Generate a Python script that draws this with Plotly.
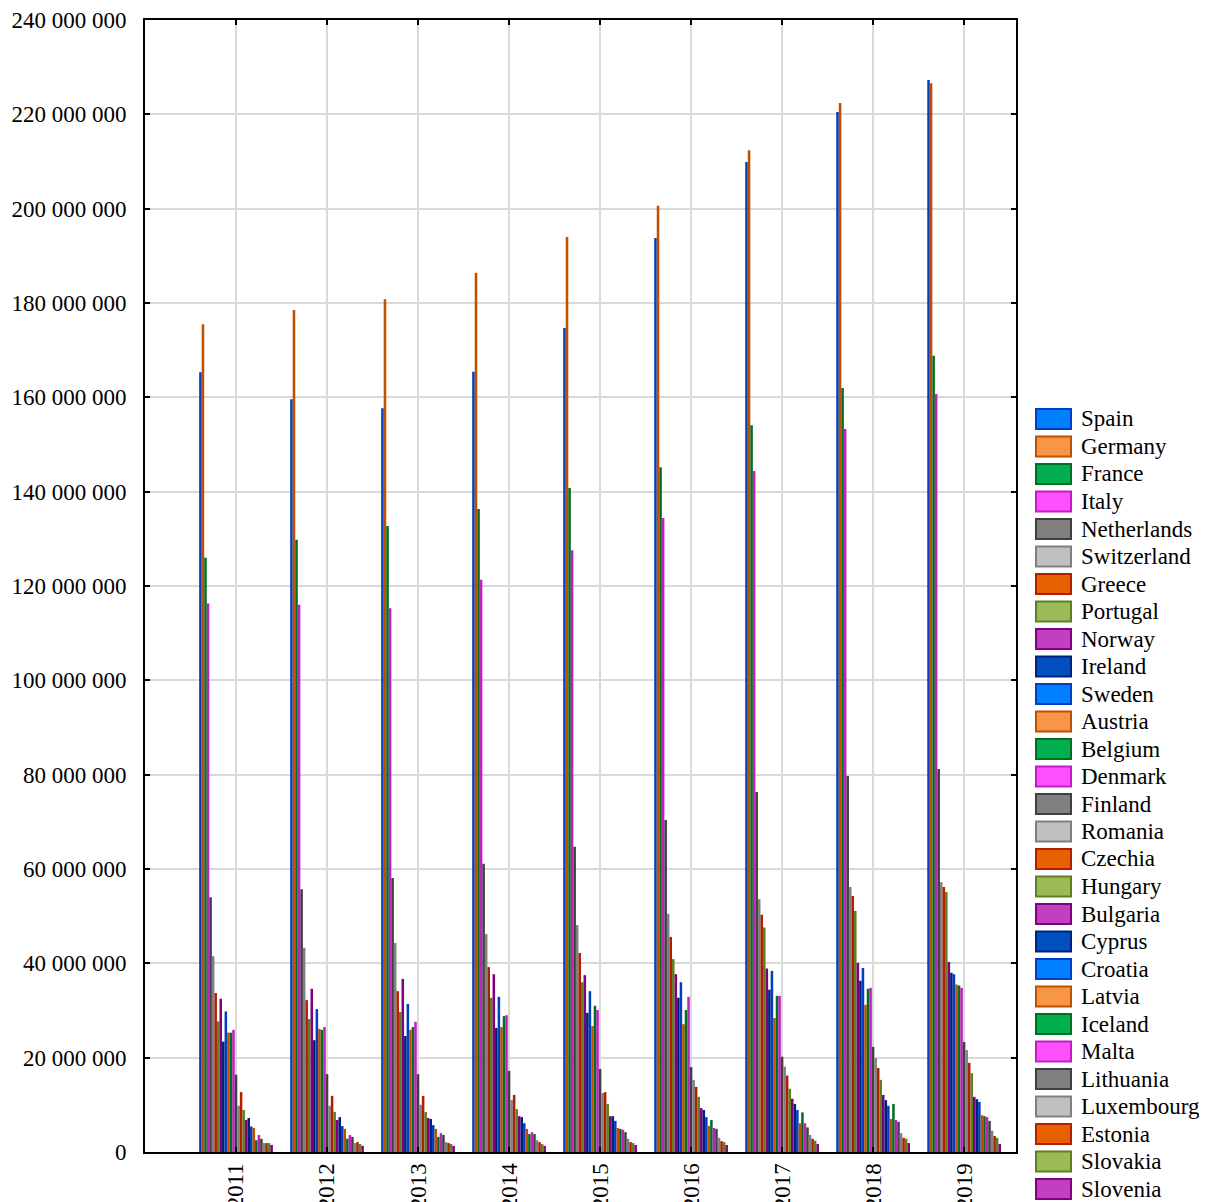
import plotly.graph_objects as go

years = [2011, 2012, 2013, 2014, 2015, 2016, 2017, 2018, 2019]

countries = ["Spain", "Germany", "France", "Italy", "Netherlands", "Switzerland", "Greece",
             "Portugal", "Norway", "Ireland", "Sweden", "Austria", "Belgium", "Denmark",
             "Finland", "Romania", "Czechia", "Hungary", "Bulgaria", "Cyprus", "Croatia",
             "Latvia", "Iceland", "Malta", "Lithuania", "Luxembourg", "Estonia", "Slovakia",
             "Slovenia"]

# values in millions
spain = [165.3, 159.6, 157.7, 165.4, 174.7, 193.8, 209.9, 220.5, 227.3]
germany = [175.5, 178.5, 180.8, 186.4, 194.0, 200.6, 212.4, 222.4, 226.6]
france = [126.0, 129.8, 132.7, 136.3, 140.8, 145.2, 154.1, 162.0, 168.8]
italy = [116.3, 116.0, 115.3, 121.3, 127.6, 134.4, 144.4, 153.3, 160.7]
netherlands = [54.0, 55.7, 58.1, 61.1, 64.7, 70.4, 76.3, 79.7, 81.2]
switzerland = [41.5, 43.3, 44.3, 46.2, 48.1, 50.5, 53.6, 56.2, 57.2]
greece = [33.7, 32.2, 34.1, 39.2, 42.2, 45.6, 50.3, 54.3, 56.2]
portugal = [27.7, 28.2, 29.7, 32.7, 36.0, 40.9, 47.6, 51.1, 55.1]
norway = [32.5, 34.6, 36.7, 37.7, 37.5, 37.7, 38.9, 40.1, 40.3]
ireland = [23.4, 23.7, 24.6, 26.3, 29.5, 32.7, 34.4, 36.3, 38.0]
sweden = [29.8, 30.3, 31.4, 32.9, 34.1, 36.0, 38.4, 39.0, 37.7]
austria = [25.3, 26.1, 25.9, 26.5, 26.7, 27.1, 28.4, 31.2, 35.5]
belgium = [25.3, 25.9, 26.5, 28.8, 31.0, 30.1, 33.1, 34.6, 35.3]
denmark = [25.9, 26.5, 27.6, 29.0, 30.1, 32.9, 33.1, 34.8, 34.8]
finland = [16.4, 16.5, 16.5, 17.2, 17.6, 18.0, 20.2, 22.3, 23.3]
romania = [9.8, 9.8, 10.0, 11.0, 12.5, 15.3, 18.1, 19.9, 21.6]
czechia = [12.7, 11.9, 11.9, 12.1, 12.7, 13.8, 16.2, 17.8, 18.9]
hungary = [8.9, 8.5, 8.5, 9.1, 10.2, 11.7, 13.4, 15.3, 16.7]
bulgaria = [6.8, 6.8, 7.2, 7.6, 7.6, 9.3, 11.3, 12.1, 11.7]
cyprus = [7.2, 7.4, 7.0, 7.4, 7.6, 8.9, 10.2, 11.0, 11.2]
croatia = [5.4, 5.5, 5.7, 6.1, 6.6, 7.4, 8.9, 9.8, 10.6]
latvia = [5.1, 4.9, 4.9, 4.9, 5.1, 5.5, 6.1, 7.0, 7.8]
iceland = [2.5, 2.8, 3.2, 3.8, 4.9, 6.8, 8.4, 10.2, 7.6]
malta = [3.6, 3.6, 4.0, 4.2, 4.7, 5.1, 6.1, 6.8, 7.4]
lithuania = [2.8, 3.2, 3.6, 3.8, 4.2, 4.9, 5.2, 6.4, 6.6]
luxembourg = [1.9, 1.9, 2.1, 2.5, 2.8, 3.0, 3.6, 4.0, 4.5]
estonia = [1.9, 2.1, 1.9, 2.1, 2.1, 2.3, 2.8, 3.0, 3.4]
slovakia = [1.9, 1.7, 1.7, 1.7, 1.9, 2.1, 2.4, 2.8, 3.0]
slovenia = [1.5, 1.3, 1.3, 1.3, 1.5, 1.5, 1.7, 1.9, 1.7]

series = [spain, germany, france, italy, netherlands, switzerland, greece, portugal, norway,
          ireland, sweden, austria, belgium, denmark, finland, romania, czechia, hungary,
          bulgaria, cyprus, croatia, latvia, iceland, malta, lithuania, luxembourg, estonia,
          slovakia, slovenia]

y_ticks = [0, 20e6, 40e6, 60e6, 80e6, 100e6, 120e6, 140e6, 160e6, 180e6, 200e6, 220e6, 240e6]

border_colors = ["#0040c0", "#c05000", "#007020", "#c020c0", "#404040",
                 "#808080", "#b02000", "#608020", "#800080", "#002080"]
fill_colors = ["#0080ff", "#f79646", "#00b050", "#ff50ff", "#808080",
               "#c0c0c0", "#e86000", "#9bbb59", "#c040c0", "#0050c0"]

FONT = "Liberation Serif, Times New Roman, serif"
FS = 23

fig = go.Figure()
for i, (name, vals) in enumerate(zip(countries, series)):
    fig.add_trace(go.Bar(
        x=years, y=[v * 1e6 for v in vals], name=name,
        marker=dict(color=border_colors[i % 10], line=dict(width=0)),
        showlegend=False,
    ))

# figure size compensates the page's 8px body margin
FW, FH = 1199, 1194
OFF = 8
# plot area geometry (page pixels)
L, R, T, B = 145 - OFF, 1016 - OFF, 20 - OFF, 1152 - OFF
W, H = R - L, B - T

def px(x):
    return (x - OFF - L) / W

def py(y):
    return (B - (y - OFF)) / H

shapes = []
annotations = []
for i, name in enumerate(countries):
    cy = 419 + i * 27.5
    shapes.append(dict(
        type="rect", xref="paper", yref="paper",
        x0=px(1036), x1=px(1071), y0=py(cy + 10), y1=py(cy - 10),
        fillcolor=fill_colors[i % 10],
        line=dict(color=border_colors[i % 10], width=2),
    ))
    annotations.append(dict(
        xref="paper", yref="paper", x=px(1079), y=py(cy),
        text=name, showarrow=False, xanchor="left", yanchor="middle",
        font=dict(family=FONT, size=FS, color="#000000"),
    ))

fig.update_layout(
    width=FW, height=FH,
    margin=dict(l=L, r=FW - R, t=T, b=FH - B, autoexpand=False),
    paper_bgcolor="white", plot_bgcolor="white",
    barmode="group", bargap=0.19, bargroupgap=0,
    separators=". ",
    font=dict(family=FONT, size=FS, color="#000000"),
    shapes=shapes, annotations=annotations,
    showlegend=False,
)
fig.update_xaxes(
    range=[2010, 2019.57], tickvals=years, ticktext=[str(y) for y in years],
    tickangle=-90, showgrid=True, gridcolor="#d9d9d9", gridwidth=2,
    showline=True, linecolor="black", linewidth=2, mirror="ticks",
    ticks="inside", ticklen=5, tickcolor="black", tickwidth=2,
    tickfont=dict(family=FONT, size=FS), zeroline=False, automargin=False,
)
fig.update_yaxes(
    range=[0, 240e6], tickvals=y_ticks, tickformat=",d",
    showgrid=True, gridcolor="#d9d9d9", gridwidth=2,
    showline=True, linecolor="black", linewidth=2, mirror="ticks",
    ticks="inside", ticklen=5, tickcolor="black", tickwidth=2,
    tickfont=dict(family=FONT, size=FS), zeroline=False, automargin=False,
    ticklabelstandoff=12,
)

fig.write_html("out.html")
